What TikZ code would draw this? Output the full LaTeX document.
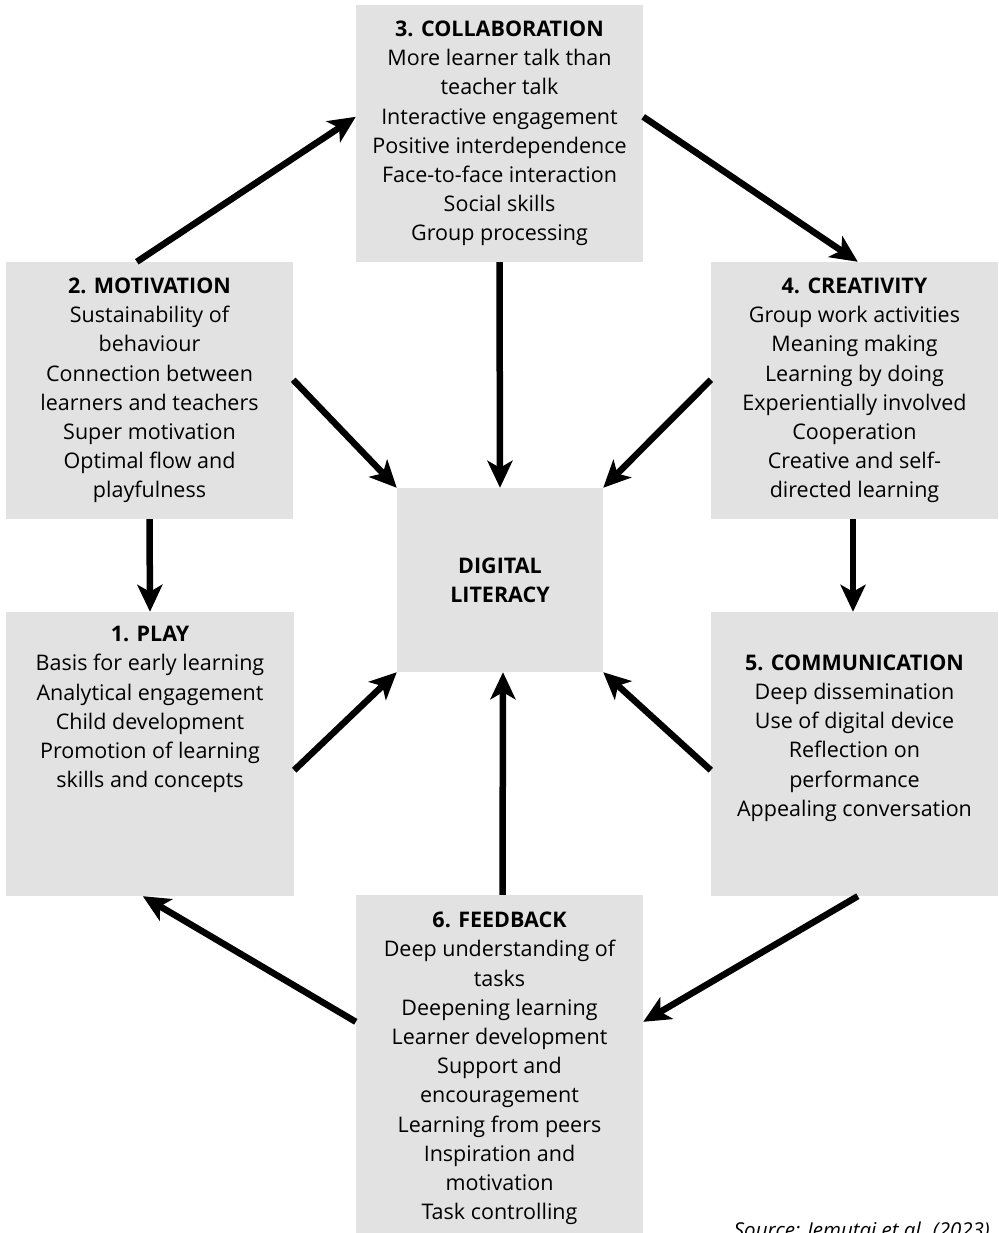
\documentclass[tikz,border=0pt]{standalone}
\usepackage{fontspec}
\setmainfont{Open Sans}
\usetikzlibrary{arrows.meta,calc}
\definecolor{boxgray}{HTML}{E2E2E2}
\begin{document}
\begin{tikzpicture}[x=1pt,y=-1pt,
  box/.style={fill=boxgray, draw=none, inner sep=0pt, align=center,
    font=\fontsize{21.5}{29.2}\selectfont},
  txt/.style={inner sep=0pt, align=center, font=\fontsize{21.5}{29.2}\selectfont},
  arr/.style={line width=6.5pt, -{Stealth[length=27pt,width=25pt,inset=7pt]}}]
\useasboundingbox (0,0) rectangle (998,1233);
\clip (0,0) rectangle (998,1233);
% boxes
\node[box, minimum width=287pt, minimum height=257pt] (b3) at (499.5,133.5)
  {\textbf{3. COLLABORATION}\\More learner talk than\\teacher talk\\Interactive engagement\\Positive interdependence\\Face-to-face interaction\\Social skills\\Group processing};
\node[box, minimum width=287pt, minimum height=257pt] (b2) at (149.5,390.5)
  {\textbf{2. MOTIVATION}\\Sustainability of\\behaviour\\Connection between\\learners and teachers\\Super motivation\\Optimal flow and\\playfulness};
\node[box, minimum width=287pt, minimum height=257pt] (b4) at (854.5,390.5)
  {\textbf{4. CREATIVITY}\\Group work activities\\Meaning making\\Learning by doing\\Experientially involved\\Cooperation\\Creative and self-\\directed learning};
\node[box, minimum width=206pt, minimum height=184pt] (c) at (500,580)
  {\textbf{DIGITAL}\\\textbf{LITERACY}};
\node[box, minimum width=288pt, minimum height=284pt] (b1) at (150,754) {};
\node[txt] (t1) at (150,709.5)
  {\textbf{1. PLAY}\\Basis for early learning\\Analytical engagement\\Child development\\Promotion of learning\\skills and concepts};
\node[box, minimum width=287pt, minimum height=284pt] (b5) at (854.5,754) {};
\node[txt] (t5) at (854.5,738)
  {\textbf{5. COMMUNICATION}\\Deep dissemination\\Use of digital device\\Reflection on\\performance\\Appealing conversation};
\node[box, minimum width=287pt, minimum height=345pt] (b6) at (499.5,1067.5) {};
\node[txt] (t6) at (499.5,1068.5)
  {\textbf{6. FEEDBACK}\\Deep understanding of\\tasks\\Deepening learning\\Learner development\\Support and\\encouragement\\Learning from peers\\Inspiration and\\motivation\\Task controlling};
\node[inner sep=0pt, anchor=north east, font=\fontsize{20.5}{24}\selectfont\itshape] (src) at (990,1222)
  {Source: Jemutai et al. (2023)};
% arrows
\draw[arr] ([xshift=131pt]b2.north west) -- ([yshift=-112pt]b3.north west);
\draw[arr] ([yshift=-112pt]b3.north east) -- ([xshift=147pt]b4.north west);
\draw[arr] (b3.south) -- (c.north);
\draw[arr] ([yshift=-118pt]b2.north east) -- (c.north west);
\draw[arr] ([yshift=-118pt]b4.north west) -- (c.north east);
\draw[arr] (b2.south) -- (b1.north);
\draw[arr] ([xshift=-1.5pt]b4.south) -- ([xshift=-1.5pt]b5.north);
\draw[arr] ([yshift=126pt]b1.south east) -- (c.south west);
\draw[arr] ([yshift=126pt]b5.south west) -- (c.south east);
\draw[arr] ([xshift=3pt]b6.north) -- ([xshift=3pt]c.south);
\draw[arr] ([xshift=147pt]b5.south west) -- ([yshift=-127pt]b6.north east);
\draw[arr] ([yshift=-127pt]b6.north west) -- ([xshift=137pt]b1.south west);
\end{tikzpicture}
\end{document}
